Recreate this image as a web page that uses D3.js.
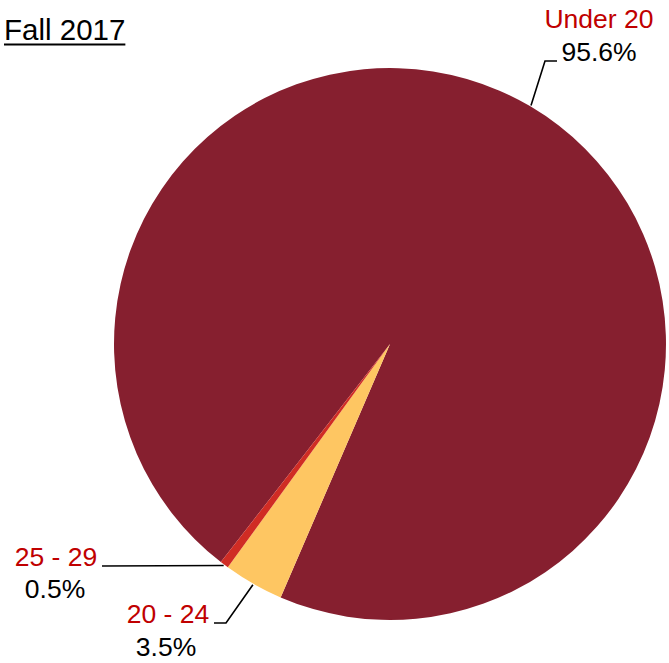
<!DOCTYPE html>
<html>
<head>
<meta charset="utf-8">
<script src="https://cdn.jsdelivr.net/npm/d3@7"></script>
<style>
  html, body { margin: 0; padding: 0; background: #fff; }
  svg { display: block; }
  text { font-family: "Liberation Sans", Arial, sans-serif; }
</style>
</head>
<body>
<svg id="chart" width="669" height="663"></svg>
<script>
// Age groups of students, Fall 2017 (percent)
const categories = ["Under 20", "20 - 24", "25 - 29"];
const values = [95.6, 3.5, 0.5];
const labels = ["95.6%", "3.5%", "0.5%"];
const colors = ["#861f2f", "#fec662", "#d02c24"];

const width = 669, height = 663;
const cx = 390, cy = 344, radius = 276;

const svg = d3.select("#chart");

// Title, underlined
const title = svg.append("text")
  .attr("x", 4).attr("y", 40)
  .attr("font-size", 29.5)
  .attr("fill", "#000")
  .text("Fall 2017");
const tb = title.node().getBBox();
svg.append("line")
  .attr("x1", tb.x).attr("x2", tb.x + tb.width)
  .attr("y1", 44.5).attr("y2", 44.5)
  .attr("stroke", "#000").attr("stroke-width", 2);

const deg = Math.PI / 180;
const pie = d3.pie().sort(null).startAngle(-142.2 * deg).endAngle(217.8 * deg);
const arcs = pie(values);
const arc = d3.arc().innerRadius(0).outerRadius(radius);

const g = svg.append("g").attr("transform", `translate(${cx},${cy})`);
g.selectAll("path.slice")
  .data(arcs)
  .join("path")
  .attr("class", "slice")
  .attr("d", arc)
  .attr("fill", (d, i) => colors[i]);

// Leader lines: start on the rim, then a bend and a short elbow
const rimPoint = (a, r) => [cx + r * Math.sin(a), cy - r * Math.cos(a)];
const mid = d => (d.startAngle + d.endAngle) / 2;

const leaders = [
  { i: 0, angle: 30.6 * deg, bend: [545, 61], end: [557, 61] },
  { i: 1, angle: null, bend: [226, 623], end: [214, 623] },
  { i: 2, angle: null, bend: null, end: [102, 566] }
];

leaders.forEach(l => {
  const a = l.angle !== null ? l.angle : mid(arcs[l.i]);
  const p0 = rimPoint(a, radius + 1);
  const pts = [p0];
  if (l.bend) pts.push(l.bend);
  pts.push(l.end);
  svg.append("path")
    .attr("d", d3.line()(pts))
    .attr("fill", "none")
    .attr("stroke", "#000")
    .attr("stroke-width", 1.6);
});

// Category names (red) and percentages (black)
const textSpecs = [
  { i: 0, nx: 599, ny: 28, px: 599, py: 61 },
  { i: 1, nx: 168, ny: 623, px: 166, py: 656 },
  { i: 2, nx: 56, ny: 566, px: 55, py: 598 }
];
textSpecs.forEach(t => {
  svg.append("text")
    .attr("x", t.nx).attr("y", t.ny)
    .attr("text-anchor", "middle")
    .attr("font-size", 26.5)
    .attr("fill", "#c00000")
    .text(categories[t.i]);
  svg.append("text")
    .attr("x", t.px).attr("y", t.py)
    .attr("text-anchor", "middle")
    .attr("font-size", 26.5)
    .attr("fill", "#000")
    .text(labels[t.i]);
});
</script>
</body>
</html>
